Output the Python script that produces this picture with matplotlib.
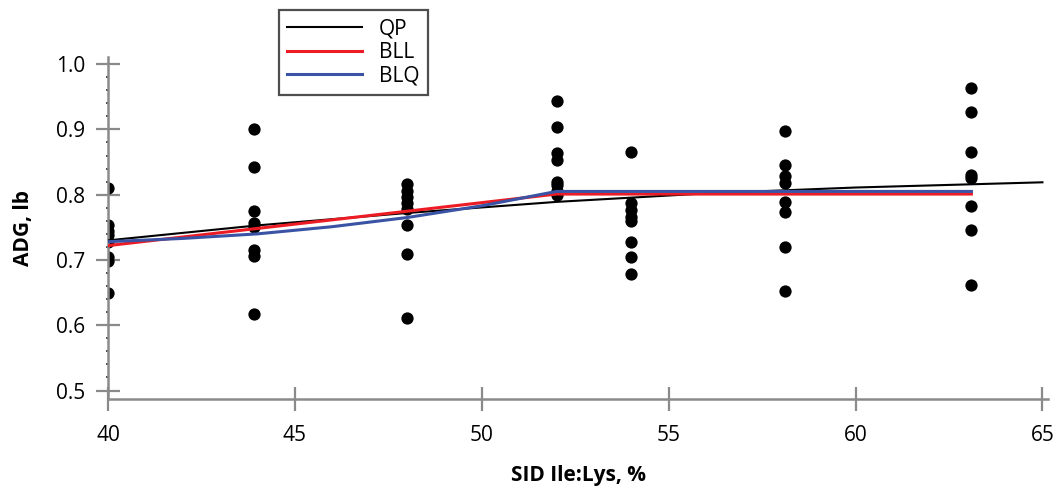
import numpy as np
import matplotlib
matplotlib.use("Agg")
import matplotlib.pyplot as plt

plt.rcParams['font.family'] = ['Open Sans', 'DejaVu Sans']

# observed ADG per SID Ile:Lys level
ratio = [40, 43.9, 48, 52, 54, 58.1, 63.1]
adg = [
    [0.810, 0.753, 0.745, 0.738, 0.728, 0.705, 0.698, 0.650],
    [0.900, 0.843, 0.775, 0.757, 0.750, 0.715, 0.706, 0.617],
    [0.816, 0.806, 0.797, 0.788, 0.778, 0.753, 0.709, 0.611],
    [0.943, 0.904, 0.864, 0.853, 0.820, 0.815, 0.806, 0.799],
    [0.866, 0.787, 0.777, 0.766, 0.759, 0.727, 0.705, 0.679],
    [0.897, 0.846, 0.828, 0.818, 0.789, 0.774, 0.720, 0.653],
    [0.963, 0.927, 0.866, 0.830, 0.825, 0.782, 0.746, 0.662],
]

# fitted lines
qp_x = [40, 44, 48, 52, 56, 60, 65]
qp_y = [0.730, 0.753, 0.772, 0.789, 0.802, 0.811, 0.819]
bll_x = [40, 52, 63.1]
bll_y = [0.722, 0.801, 0.801]
blq_x = [40, 42, 44, 46, 48, 50, 52, 63.1]
blq_y = [0.728, 0.733, 0.740, 0.751, 0.765, 0.783, 0.805, 0.805]

gray = '#8a8a8a'

fig = plt.figure(figsize=(10.55, 4.87), dpi=100)
ax = fig.add_axes([0.1024, 0.1807, 0.8910, 0.7023])

for xv, ys in zip(ratio, adg):
    ax.scatter([xv] * len(ys), ys, s=78, color='black', zorder=2, linewidths=0)

ax.plot(qp_x, qp_y, color='black', lw=1.5, label='QP', zorder=3)
ax.plot(bll_x, bll_y, color='#ed1c24', lw=2.2, label='BLL', zorder=3)
ax.plot(blq_x, blq_y, color='#3a53a4', lw=2.2, label='BLQ', zorder=3)

ax.set_xlim(40, 65.15)
ax.set_ylim(0.487, 1.011)
ax.set_xticks([40, 45, 50, 55, 60, 65])
ax.set_yticks([0.5, 0.6, 0.7, 0.8, 0.9, 1.0])
ax.set_yticks(np.arange(0.52, 1.0, 0.02), minor=True)
ax.set_yticklabels(['0.5', '0.6', '0.7', '0.8', '0.9', '1.0'])

for s in ['top', 'right']:
    ax.spines[s].set_visible(False)
for s in ['left', 'bottom']:
    ax.spines[s].set_color(gray)
    ax.spines[s].set_linewidth(1.8)

ax.tick_params(axis='both', which='major', direction='inout', length=17,
               width=1.6, color=gray, labelsize=15)
ax.tick_params(axis='y', which='major', pad=8)
ax.tick_params(axis='x', which='major', pad=10)
ax.tick_params(axis='y', which='minor', direction='out', length=1.2,
               width=1.2, color='#333333')

ax.set_xlabel('SID Ile:Lys, %', fontsize=15, fontweight='bold', labelpad=14)
ax.set_ylabel('ADG, lb', fontsize=15, fontweight='bold', labelpad=16)

leg = ax.legend(loc='upper left', bbox_to_anchor=(0.2645, 0.9795),
                bbox_transform=fig.transFigure, fontsize=15, frameon=True,
                fancybox=False, borderpad=0.4, labelspacing=0.12,
                handlelength=3.6, handletextpad=0.8, borderaxespad=0)
leg.get_frame().set_edgecolor('#222222')
leg.get_frame().set_linewidth(1.6)

fig.savefig('out.png', dpi=100)
